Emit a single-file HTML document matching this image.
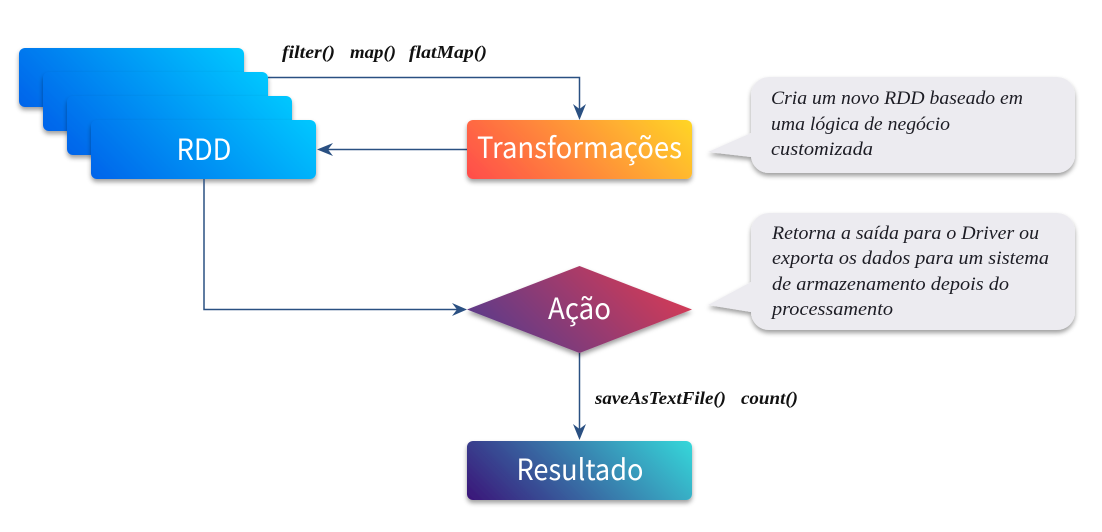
<!DOCTYPE html>
<html><head><meta charset="utf-8"><style>
html,body{margin:0;padding:0;background:#fff;width:1102px;height:532px;overflow:hidden}
svg{display:block}
.n{font-family:"Noto Sans CJK JP","Liberation Sans",sans-serif;font-size:29px;fill:#fff;text-anchor:middle}
.c{font-family:"Liberation Serif",serif;font-style:italic;font-weight:bold;font-size:18px;fill:#111}
.b{font-family:"Liberation Serif",serif;font-style:italic;font-size:19px;fill:#1c1c24}
</style></head><body>
<svg width="1102" height="532" viewBox="0 0 1102 532" xmlns="http://www.w3.org/2000/svg">
<defs>
<linearGradient id="blue" gradientUnits="userSpaceOnUse" x1="41.5" y1="100.5" x2="183.5" y2="-41.5"><stop offset="0" stop-color="#0063ea"/><stop offset="1" stop-color="#06c8ff"/></linearGradient>
<linearGradient id="tr" gradientUnits="userSpaceOnUse" x1="41.5" y1="100.5" x2="183.5" y2="-41.5"><stop offset="0" stop-color="#ff4b4b"/><stop offset="1" stop-color="#ffd626"/></linearGradient>
<linearGradient id="ac" gradientUnits="userSpaceOnUse" x1="501.5" y1="387.5" x2="657.5" y2="231.5"><stop offset="0" stop-color="#4a3a92"/><stop offset="1" stop-color="#e63a4e"/></linearGradient>
<linearGradient id="re" gradientUnits="userSpaceOnUse" x1="41.5" y1="100.5" x2="183.5" y2="-41.5"><stop offset="0" stop-color="#3a1478"/><stop offset="1" stop-color="#36d8da"/></linearGradient>
<filter id="s" x="-10%" y="-20%" width="120%" height="140%"><feDropShadow dx="0" dy="3" stdDeviation="2.500" flood-color="#000" flood-opacity=".38"/></filter>
</defs>

<rect width="225" height="59" rx="6" transform="translate(19 48)" fill="url(#blue)" filter="url(#s)"/>
<rect width="225" height="59" rx="6" transform="translate(43 72)" fill="url(#blue)" filter="url(#s)"/>
<rect width="225" height="59" rx="6" transform="translate(67 96)" fill="url(#blue)" filter="url(#s)"/>
<rect width="225" height="59" rx="6" transform="translate(91 120)" fill="url(#blue)" filter="url(#s)"/>
<text class="n" x="204" y="160" textLength="55" lengthAdjust="spacingAndGlyphs">RDD</text>

<g fill="none" stroke="#2a5082" stroke-width="1.500">
<path d="M268 77.500H579.500V116"/>
<path d="M467 149.500H321"/>
<path d="M204 179V309.500H463"/>
<path d="M579.500 353V436"/>
</g>
<g fill="#2a5082">
<path d="M579.500 120L573 104L579.500 109L586 104Z"/>
<path d="M317 149.500L333 143L328 149.500L333 156Z"/>
<path d="M467 309.500L452 303L457 309.500L452 316Z"/>
<path d="M579.500 440L573 424L579.500 429L586 424Z"/>
</g>

<rect width="225" height="59" rx="6" transform="translate(467 120)" fill="url(#tr)" filter="url(#s)"/>
<text class="n" x="579.500" y="158" textLength="205" lengthAdjust="spacingAndGlyphs">Transformações</text>

<polygon points="467,309.500 579.500,266 692,309.500 579.500,353" fill="url(#ac)" filter="url(#s)"/>
<text class="n" x="579.500" y="319" textLength="63" lengthAdjust="spacingAndGlyphs">Ação</text>

<rect width="225" height="59" rx="6" transform="translate(467 441)" fill="url(#re)" filter="url(#s)"/>
<text class="n" x="580" y="480" textLength="127" lengthAdjust="spacingAndGlyphs">Resultado</text>

<text class="c" x="282" y="58" textLength="53" lengthAdjust="spacingAndGlyphs">filter()</text>
<text class="c" x="350" y="58" textLength="46" lengthAdjust="spacingAndGlyphs">map()</text>
<text class="c" x="409" y="58" textLength="78" lengthAdjust="spacingAndGlyphs">flatMap()</text>
<text class="c" x="595" y="404" textLength="131" lengthAdjust="spacingAndGlyphs">saveAsTextFile()</text>
<text class="c" x="741" y="404" textLength="57" lengthAdjust="spacingAndGlyphs">count()</text>

<path d="M769 77H1057a18 18 0 0 1 18 18V155a18 18 0 0 1 -18 18H769a18 18 0 0 1 -18 -16L708 152L751 133V95a18 18 0 0 1 18 -18Z" fill="#ecebf0" filter="url(#s)"/>
<text class="b" x="771" y="104" textLength="252" lengthAdjust="spacingAndGlyphs">Cria um novo RDD baseado em</text>
<text class="b" x="771" y="130" textLength="179" lengthAdjust="spacingAndGlyphs">uma lógica de negócio</text>
<text class="b" x="771" y="155" textLength="102" lengthAdjust="spacingAndGlyphs">customizada</text>

<path d="M769 213H1057a18 18 0 0 1 18 18V312a18 18 0 0 1 -18 18H769a18 18 0 0 1 -18 -18L708 305L751 282V231a18 18 0 0 1 18 -18Z" fill="#ecebf0" filter="url(#s)"/>
<text class="b" x="772" y="239" textLength="267" lengthAdjust="spacingAndGlyphs">Retorna a saída para o Driver ou</text>
<text class="b" x="772" y="264" textLength="277" lengthAdjust="spacingAndGlyphs">exporta os dados para um sistema</text>
<text class="b" x="772" y="290" textLength="237" lengthAdjust="spacingAndGlyphs">de armazenamento depois do</text>
<text class="b" x="772" y="315" textLength="121" lengthAdjust="spacingAndGlyphs">processamento</text>
</svg>
</body></html>
